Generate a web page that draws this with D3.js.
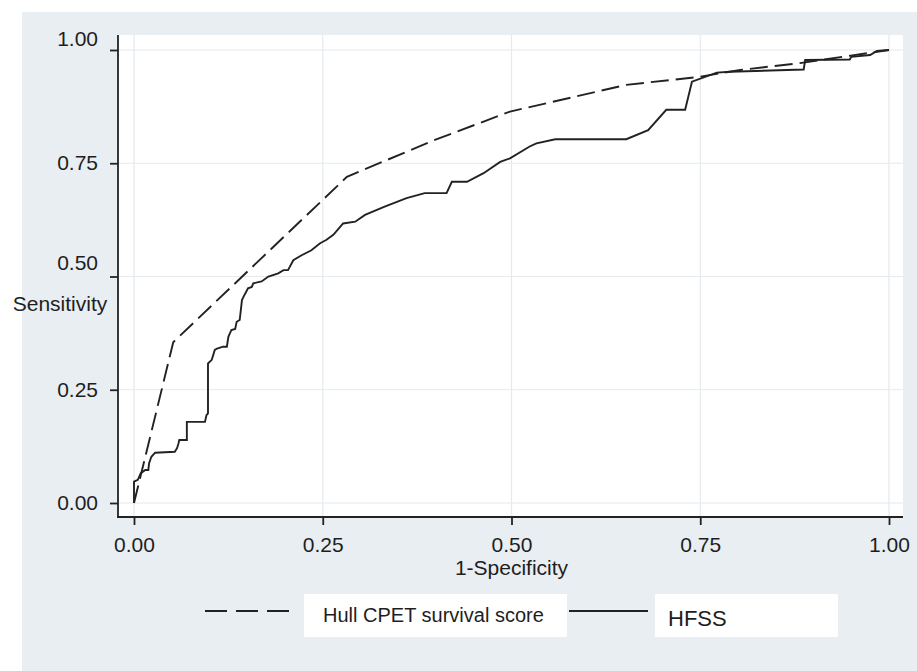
<!DOCTYPE html>
<html>
<head>
<meta charset="utf-8">
<script src="https://cdn.jsdelivr.net/npm/d3@7"></script>
<style>
  body { margin: 0; background: #fff; }
  svg text { font-family: "Liberation Sans", Arial, sans-serif; fill: #1e1e1e; }
</style>
</head>
<body>
<script>
// tick values / labels
var xTicks = [0, 0.25, 0.5, 0.75, 1];
var yTicks = [0, 0.25, 0.5, 0.75, 1];

// ROC curves: [1-specificity, sensitivity]
var hullFpr  = [0, 0.052, 0.282, 0.396, 0.498, 0.652, 0.750, 0.803, 0.882, 1];
var hullSens = [0, 0.355, 0.720, 0.800, 0.864, 0.923, 0.941, 0.956, 0.971, 1];

var hfssFpr = [0, 0, 0.005, 0.009, 0.015, 0.019, 0.020, 0.023, 0.028, 0.054, 0.057, 0.059, 0.060, 0.070,
  0.070, 0.094, 0.096, 0.098, 0.098, 0.103, 0.107, 0.110, 0.118, 0.123, 0.125, 0.129, 0.134, 0.136,
  0.140, 0.143, 0.145, 0.151, 0.156, 0.158, 0.169, 0.178, 0.191, 0.198, 0.204, 0.211, 0.222, 0.235,
  0.246, 0.255, 0.264, 0.277, 0.293, 0.306, 0.332, 0.361, 0.385, 0.414, 0.421, 0.441, 0.463, 0.485,
  0.498, 0.524, 0.533, 0.558, 0.652, 0.681, 0.705, 0.730, 0.739, 0.772, 0.789, 0.887, 0.889, 0.948,
  0.950, 0.975, 0.984, 1];
var hfssSens = [0, 0.047, 0.051, 0.066, 0.073, 0.073, 0.088, 0.102, 0.111, 0.113, 0.121, 0.132, 0.139, 0.139,
  0.179, 0.179, 0.194, 0.198, 0.308, 0.316, 0.338, 0.341, 0.345, 0.345, 0.367, 0.382, 0.384, 0.400,
  0.404, 0.448, 0.455, 0.474, 0.477, 0.485, 0.489, 0.500, 0.507, 0.514, 0.514, 0.536, 0.547, 0.558,
  0.573, 0.581, 0.592, 0.617, 0.621, 0.636, 0.654, 0.673, 0.684, 0.684, 0.709, 0.709, 0.728, 0.753,
  0.761, 0.787, 0.794, 0.803, 0.803, 0.823, 0.868, 0.868, 0.930, 0.950, 0.952, 0.957, 0.978, 0.979,
  0.985, 0.989, 0.998, 1];

var legendNames = ["Hull CPET survival score", "HFSS"];

var W = 917, H = 671;
var plot = { left: 118, top: 35, right: 903, bottom: 517 };

var svg = d3.select("body").append("svg")
    .attr("width", W)
    .attr("height", H);

// graph region + plot region
svg.append("rect")
    .attr("x", 22).attr("y", 12)
    .attr("width", W - 22).attr("height", H - 12)
    .attr("fill", "#e8eef2");

svg.append("rect")
    .attr("x", plot.left).attr("y", plot.top)
    .attr("width", plot.right - plot.left).attr("height", plot.bottom - plot.top)
    .attr("fill", "#fff");

var x = d3.scaleLinear().domain([0, 1]).range([134, 889]);
var y = d3.scaleLinear().domain([0, 1]).range([503, 50]);

// grid lines
svg.selectAll(".ygrid").data(yTicks).enter().append("line")
    .attr("class", "ygrid")
    .attr("x1", plot.left).attr("x2", plot.right)
    .attr("y1", d => y(d)).attr("y2", d => y(d))
    .style("stroke", "#e4eaee")
    .style("stroke-width", 1.2);

svg.selectAll(".xgrid").data(xTicks).enter().append("line")
    .attr("class", "xgrid")
    .attr("y1", plot.top).attr("y2", plot.bottom)
    .attr("x1", d => x(d)).attr("x2", d => x(d))
    .style("stroke", "#e4eaee")
    .style("stroke-width", 1.2);

// axes
var yAxis = svg.append("g")
    .attr("transform", "translate(" + plot.left + ",0)")
    .call(d3.axisLeft(y).tickValues(yTicks).tickFormat(d3.format(".2f")).tickSize(8).tickPadding(12));

var xAxis = svg.append("g")
    .attr("transform", "translate(0," + plot.bottom + ")")
    .call(d3.axisBottom(x).tickValues(xTicks).tickFormat(d3.format(".2f")).tickSize(8).tickPadding(12));

[xAxis, yAxis].forEach(function(g) {
  g.select(".domain").remove();
  g.selectAll(".tick line").style("stroke", "#222").style("stroke-width", 1.8);
  g.selectAll(".tick text").style("font-size", "21px").style("fill", "#1e1e1e");
});

// the 1.00 and 0.50 labels sit a bit above their ticks in the original
yAxis.selectAll(".tick text")
    .attr("y", d => d === 1 ? -11 : d === 0.5 ? -14 : 0);

svg.append("line")
    .attr("x1", plot.left).attr("x2", plot.left)
    .attr("y1", plot.top).attr("y2", plot.bottom + 0.9)
    .style("stroke", "#222").style("stroke-width", 1.8);

svg.append("line")
    .attr("x1", plot.left - 0.9).attr("x2", plot.right)
    .attr("y1", plot.bottom).attr("y2", plot.bottom)
    .style("stroke", "#222").style("stroke-width", 1.8);

// axis titles
svg.append("text")
    .attr("x", 60).attr("y", 311)
    .attr("text-anchor", "middle")
    .style("font-size", "21px")
    .text("Sensitivity");

svg.append("text")
    .attr("x", x(0.5)).attr("y", 575)
    .attr("text-anchor", "middle")
    .style("font-size", "21px")
    .text("1-Specificity");

// curves
var line = d3.line()
    .x(d => x(d[0]))
    .y(d => y(d[1]));

var hullData = hullFpr.map((d, i) => [d, hullSens[i]]);
var hfssData = hfssFpr.map((d, i) => [d, hfssSens[i]]);

svg.append("path")
    .datum(hfssData)
    .attr("d", line)
    .style("fill", "none")
    .style("stroke", "#222")
    .style("stroke-width", 1.9)
    .style("stroke-linejoin", "miter");

svg.append("path")
    .datum(hullData)
    .attr("d", line)
    .style("fill", "none")
    .style("stroke", "#222")
    .style("stroke-width", 1.9)
    .style("stroke-dasharray", "18,7");

// legend
var legY = 611;

svg.append("line")
    .attr("x1", 205).attr("x2", 290)
    .attr("y1", legY).attr("y2", legY)
    .style("stroke", "#222").style("stroke-width", 2)
    .style("stroke-dasharray", "22,9");

svg.append("rect")
    .attr("x", 304).attr("y", 594)
    .attr("width", 263).attr("height", 43)
    .attr("fill", "#fff");

svg.append("text")
    .attr("x", 323).attr("y", 622)
    .style("font-size", "20px")
    .text(legendNames[0]);

svg.append("line")
    .attr("x1", 569).attr("x2", 648)
    .attr("y1", legY).attr("y2", legY)
    .style("stroke", "#222").style("stroke-width", 2);

svg.append("rect")
    .attr("x", 655).attr("y", 594)
    .attr("width", 183).attr("height", 43)
    .attr("fill", "#fff");

svg.append("text")
    .attr("x", 668).attr("y", 626)
    .style("font-size", "22px")
    .text(legendNames[1]);
</script>
</body>
</html>
